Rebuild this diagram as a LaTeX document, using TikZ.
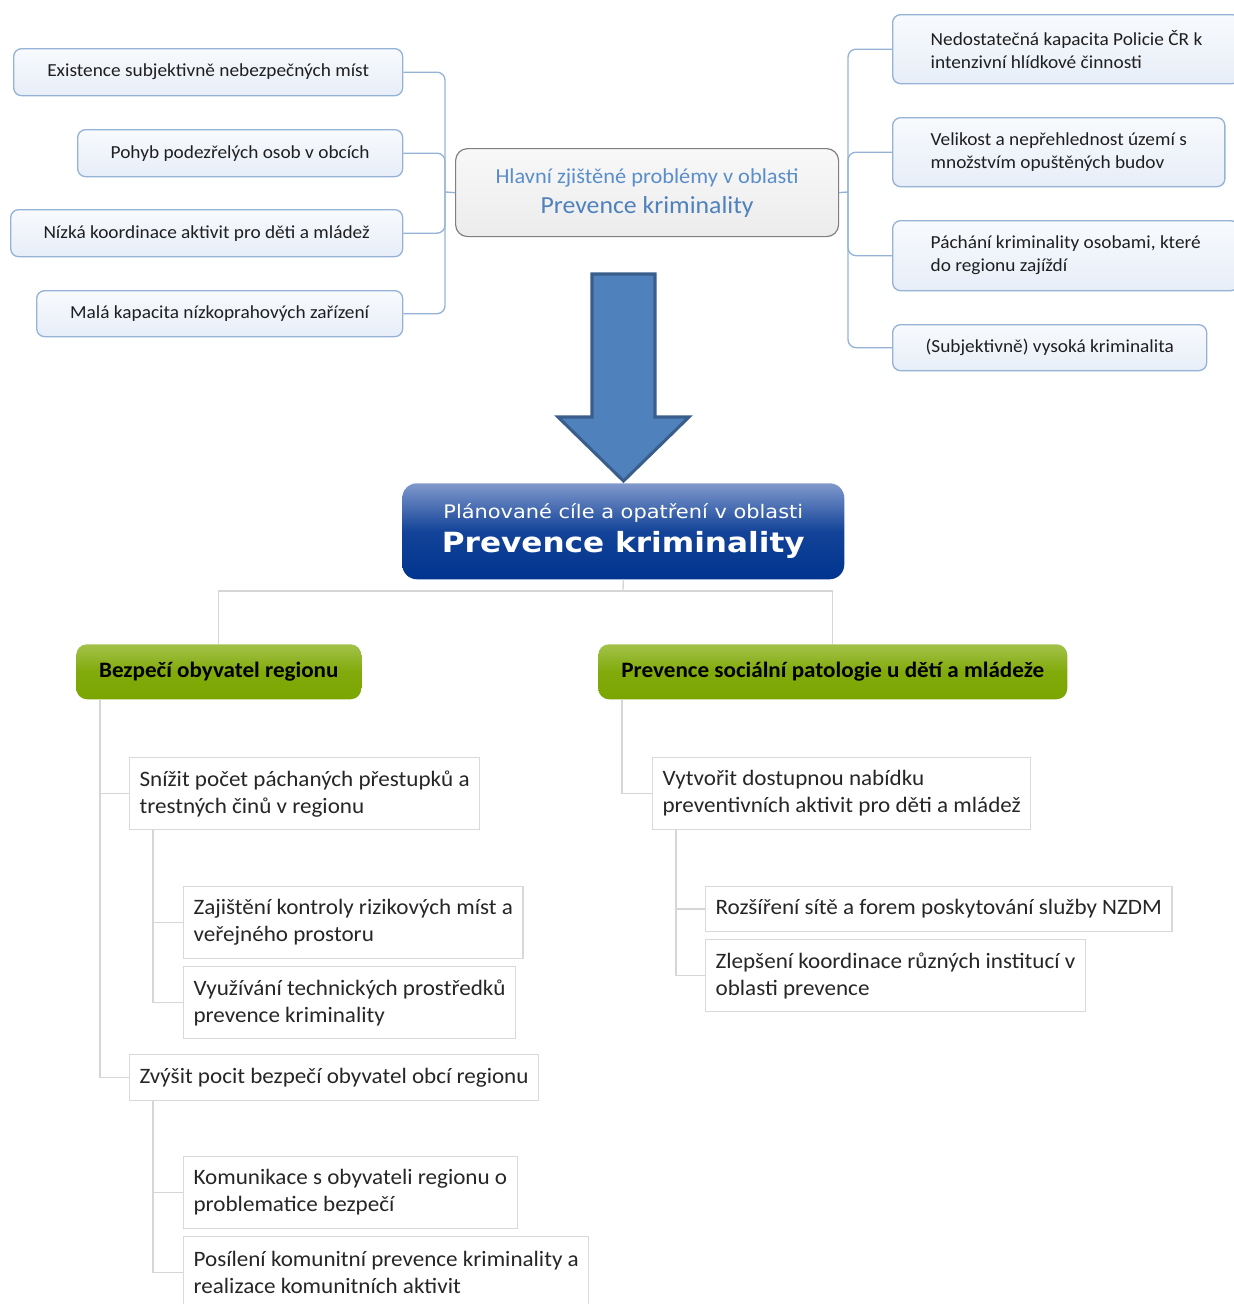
\documentclass[tikz,border=0pt]{standalone}
\usepackage{fontspec}
\setmainfont[FakeStretch=1.05]{Carlito}
\newfontfamily\verdfont[FakeStretch=1.12]{DejaVu Sans}

\def\pxu{0.75pt}

\definecolor{probline}{HTML}{95B3D7}
\definecolor{probtop}{HTML}{F8FAFD}
\definecolor{probbot}{HTML}{E7EEF8}
\definecolor{probtext}{HTML}{1F1F1F}
\definecolor{coreline}{HTML}{808080}
\definecolor{coretop}{HTML}{F8F8F8}
\definecolor{corebot}{HTML}{ECECEC}
\definecolor{coretext}{HTML}{4F81BD}
\definecolor{corelight}{HTML}{5B8EC9}
\definecolor{arrowfill}{HTML}{4F81BD}
\definecolor{arrowline}{HTML}{3A5E8C}
\definecolor{goaltop}{HTML}{8099CC}
\definecolor{goalbot}{HTML}{00348F}
\definecolor{areatop}{HTML}{A3C24A}
\definecolor{areabot}{HTML}{7BA600}
\definecolor{treeline}{HTML}{D6D6D6}
\definecolor{itemline}{HTML}{D9D9D9}
\definecolor{itemtext}{HTML}{262626}

\tikzset{
  probbox/.style={draw=probline, line width=1pt, rounded corners=6pt,
    top color=probtop, bottom color=probbot, anchor=north west,
    inner sep=0pt, text=probtext, font=\fontsize{13.8}{17.25}\selectfont},
  corebox/.style={draw=coreline, line width=0.9pt, rounded corners=9pt,
    top color=coretop, bottom color=corebot, anchor=north west,
    inner sep=0pt, align=center, text=coretext},
  goalbox/.style={rounded corners=11pt, top color=goaltop, bottom color=goalbot,
    middle color=goalbot!85!goaltop, anchor=north west, inner sep=0pt,
    align=center, text=white},
  areabox/.style={rounded corners=8pt, top color=areatop, bottom color=areabot,
    middle color=areabot!85!areatop, anchor=north west, inner sep=0pt,
    text=black, font=\bfseries\fontsize{16.5}{19}\selectfont},
  itembox/.style={draw=itemline, line width=0.9pt, fill=white, anchor=north west,
    inner xsep=10*\pxu, inner ysep=0pt, align=left, text=itemtext,
    font=\fontsize{16.5}{20.25}\selectfont},
  probedge/.style={draw=probline, line width=1pt, rounded corners=6pt},
  treeedge/.style={draw=treeline, line width=1pt}
}

\begin{document}
\begin{tikzpicture}[x=0.75pt, y=-0.75pt]
\useasboundingbox (0,0) rectangle (1234,1304);
\clip (0,0) rectangle (1234,1304);

\node[probbox, minimum width=389*\pxu, minimum height=47*\pxu] (prob1) at (13,48) {Existence subjektivně nebezpečných míst};
\node[probbox, minimum width=325*\pxu, minimum height=47*\pxu] (prob2) at (77,129) {Pohyb podezřelých osob v obcích};
\node[probbox, minimum width=392*\pxu, minimum height=47*\pxu] (prob3) at (10,209) {Nízká koordinace aktivit pro děti a mládež};
\node[probbox, minimum width=366*\pxu, minimum height=46*\pxu] (prob4) at (36,290) {Malá kapacita nízkoprahových zařízení};

\node[corebox, minimum width=383*\pxu, minimum height=88*\pxu,
  font=\fontsize{16}{22.5}\selectfont] (core) at (455,148)
  {{\color{corelight}Hlavní zjištěné problémy v oblasti}\\{\fontsize{18.4}{22.5}\selectfont Prevence kriminality}};

\node[probbox, inner xsep=38*\pxu, align=left, minimum height=69*\pxu] (prob5) at (892,14) {Nedostatečná kapacita Policie ČR k\\intenzivní hlídkové činnosti};
\node[probbox, inner xsep=38*\pxu, align=left, minimum height=69*\pxu] (prob6) at (892,117) {Velikost a nepřehlednost území s\\množstvím opuštěných budov};
\node[probbox, inner xsep=38*\pxu, align=left, minimum height=70*\pxu] (prob7) at (892,220) {Páchání kriminality osobami, které\\do regionu zajíždí};
\node[probbox, minimum width=314*\pxu, minimum height=46*\pxu] (prob8) at (892,324) {(Subjektivně) vysoká kriminalita};

\coordinate (lspine) at (445,192);
\coordinate (rspine) at (848,192);
\draw[probedge] (core.west) -- (lspine);
\draw[probedge] (core.east) -- (rspine);
\foreach \p in {prob1,prob2,prob3,prob4}
  \draw[probedge] (\p.east) -| (lspine);
\foreach \p in {prob5,prob6,prob7,prob8}
  \draw[probedge] (\p.west) -| (rspine);

\draw[fill=arrowfill, draw=arrowline, line width=2.3pt, line join=miter]
  (592,274) -- (655,274) -- (655,417) -- (689,417) -- (623.5,481)
  -- (558,417) -- (592,417) -- cycle;

\node[goalbox, minimum width=442*\pxu, minimum height=96*\pxu,
  font=\verdfont\fontsize{14}{25.5}\selectfont] (goal) at (402,483)
  {Plánované cíle a opatření v oblasti\\{\bfseries\fontsize{20.85}{25.5}\selectfont Prevence kriminality}};

\node[areabox, minimum width=285*\pxu, minimum height=55*\pxu] (area1) at (76,644) {Bezpečí obyvatel regionu};
\node[areabox, minimum width=469*\pxu, minimum height=55*\pxu] (area2) at (598,644) {Prevence sociální patologie u dětí a mládeže};

\coordinate (split) at (623,591);
\draw[treeedge] (goal.south) -- (split);
\draw[treeedge] (split) -| (area1.north);
\draw[treeedge] (split) -| (area2.north);

\node[itembox, minimum height=72*\pxu] (aim1) at (129,757) {Snížit počet páchaných přestupků a\\trestných činů v regionu};
\node[itembox, minimum height=72*\pxu] (aim11) at (183,886) {Zajištění kontroly rizikových míst a\\veřejného prostoru};
\node[itembox, minimum height=72*\pxu] (aim12) at (183,966) {Využívání technických prostředků\\prevence kriminality};
\node[itembox, minimum height=46*\pxu] (aim2) at (129,1054) {Zvýšit pocit bezpečí obyvatel obcí regionu};
\node[itembox, minimum height=72*\pxu] (aim21) at (183,1156) {Komunikace s obyvateli regionu o\\problematice bezpečí};
\node[itembox, minimum height=72*\pxu] (aim22) at (183,1236) {Posílení komunitní prevence kriminality a\\realizace komunitních aktivit};

\node[itembox, minimum height=72*\pxu] (aim3) at (652,757) {Vytvořit dostupnou nabídku\\preventivních aktivit pro děti a mládež};
\node[itembox, minimum height=45*\pxu] (aim31) at (705,886) {Rozšíření sítě a forem poskytování služby NZDM};
\node[itembox, minimum height=72*\pxu] (aim32) at (705,939) {Zlepšení koordinace různých institucí v\\oblasti prevence};

\coordinate (lroot) at (100,699);
\coordinate (aim1root) at (153,829);
\coordinate (aim2root) at (153,1100);
\coordinate (rroot) at (622,699);
\coordinate (aim3root) at (676,829);
\draw[treeedge] (lroot) |- (aim1.west);
\draw[treeedge] (lroot) |- (aim2.west);
\draw[treeedge] (aim1root) |- (aim11.west);
\draw[treeedge] (aim1root) |- (aim12.west);
\draw[treeedge] (aim2root) |- (aim21.west);
\draw[treeedge] (aim2root) |- (aim22.west);
\draw[treeedge] (rroot) |- (aim3.west);
\draw[treeedge] (aim3root) |- (aim31.west);
\draw[treeedge] (aim3root) |- (aim32.west);
\end{tikzpicture}
\end{document}
